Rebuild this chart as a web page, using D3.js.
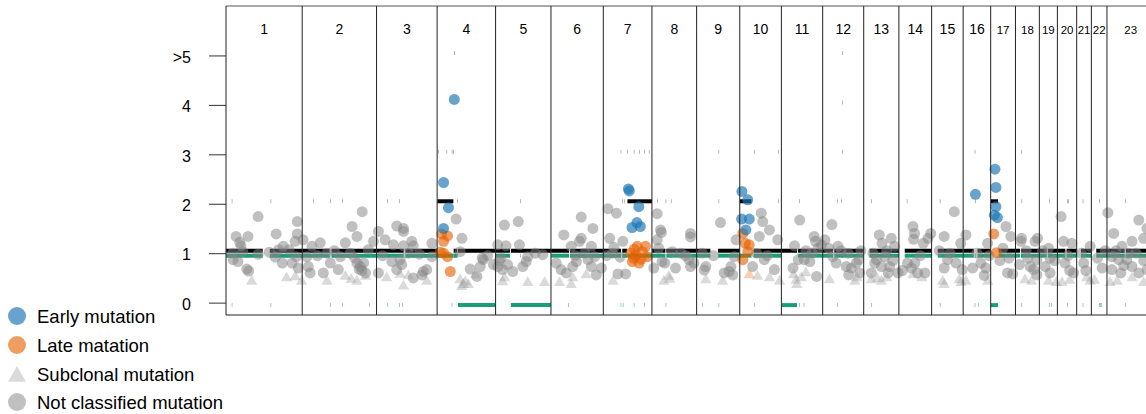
<style>
body {margin:0; background:#fff;}
#cn text {font-family:'Liberation Sans',Arial,Helvetica,sans-serif; fill:#000;}
</style>
<script src='https://d3js.org/d3.v7.min.js'></script>
<svg id='cn'></svg><script>
// chromosomes and their lengths (Mb)
var chroms=['1','2','3','4','5','6','7','8','9','10','11','12','13','14','15','16','17','18','19','20','21','22','23'];
var chromLen=[249,243,198,191,181,171,159,146,141,136,135,134,115,107,103,90,81,78,59,63,48,51,155];
var yTicks=[0,1,2,3,4,5], yTickLabels=['0','1','2','3','4','>5'];
var legendLabels=['Early mutation','Late matation','Subclonal mutation','Not classified mutation'];

// copy number segments: chrom, start, end, major, minor
var segments=[
 [1,0.5,120,1,1],[1,143,249,1,1],[2,0.5,90,1,1],[2,96,243,1,1],[3,0.5,89,1,1],[3,94,198,1,1],
 [4,0.5,53,2,1],[4,54,66,1,1],[4,68,191,1,0],[5,0.5,47,1,1],[5,50,181,1,0],
 [6,0.5,59,1,1],[6,62,171,1,1],[7,0.5,58,1,1],[7,62,78,1,1],[7,79,159,2,1],
 [8,0.5,44,1,1],[8,47,146,1,1],[9,0.5,45,1,1],[9,70,141,1,1],[10,0.5,38,2,1],[10,45,135,1,1],
 [11,0.5,51,1,0],[11,54,135,1,1],[12,0.5,34,1,1],[12,38,133,1,1],[13,19,115,1,1],
 [14,19,107,1,1],[15,20,102,1,1],[16,0.5,35,1,1],[16,47,90,1,1],[17,0.5,24,2,0],[17,26,81,1,1],
 [18,0.5,15,1,1],[18,18,78,1,1],[19,0.5,24,1,1],[19,28,59,1,1],[20,0.5,26,1,1],[20,30,63,1,1],
 [21,14,48,1,1],[22,16,51,1,1],[23,0.5,58,1,1],[23,62,155,1,1]];
// very short segments: chrom, pos, major, minor
var tinySegs=[
 [1,19,2,0],[1,146,2,0],[2,37,2,1],[2,92,2,0],[2,131,2,0],[2,220,1,0],[3,36,2,0],[3,74,2,0],[3,85,1,0],
 [4,4,3,1],[4,31,3,1],[4,48,3,0],[4,53,3,1],[4,56,5,1],[4,65,2,1],[5,81,2,1],[6,57,1,0],
 [7,57,3,0],[7,62,2,1],[7,68,2,1],[7,64,1,0],[7,78,3,1],[7,100,3,0],[7,117,3,1],[7,133,3,0],[7,149,3,1],
 [8,18,2,1],[8,45,2,0],[8,62,2,1],[9,72,3,0],[9,72,2,1],[9,19,1,0],[10,48,3,0],[10,126,3,1],[10,126,2,1],
 [11,59,2,0],[11,73,1,0],[12,64,5,1],[12,64,4,1],[12,64,3,1],[12,48,2,0],[12,61,2,1],[13,25,2,0],
 [14,26,2,1],[15,27,2,0],[16,38,3,0],[16,40,2,1],[16,50,1,0],[18,20,3,0],[18,20,2,1],[19,33,2,0],
 [19,38,1,0],[20,33,2,0],[20,35,2,1],[21,20,2,0],[22,25,2,0],[22,30,1,0],[22,33,1,0],[23,60,2,0]];

// mutations: chrom, pos, mutation copy number
var early=[[4,21,2.43],[4,37,1.92],[4,21,1.5],[4,56,4.11],
 [7,82,2.3],[7,85,2.26],[7,116,1.94],[7,110,1.62],[7,94,1.52],[7,121,1.54],
 [10,7,2.25],[10,26,2.08],[10,6,1.69],[10,31,1.69],[10,20,1.47],[16,40,2.19],
 [17,14,2.7],[17,17,2.33],[17,17,1.94],[17,12,1.77],[17,22,1.72]];
var late=[[4,15,1.39],[4,34,1.35],[4,21,1.24],[4,21,1.0],[4,34,0.93],[4,43,0.63],[4,10,1.02],
 [7,111,1.14],[7,90,1.0],[7,128,1.03],[7,144,0.93],[7,95,0.83],[7,117,0.8],[7,106,0.95],[7,138,1.14],
 [7,99,0.9],[7,124,0.88],[7,101,1.08],[10,10,1.4],[10,31,1.17],[10,26,1.03],[10,10,0.87],[10,18,1.2],
 [17,10,1.39],[17,19,1.01]];
var lateSubclonal=[[10,31,0.56]];
var subclonal=[[1,84,0.43],[1,198,0.5],[1,226,0.52],[1,247,0.43],
 [2,81,0.43],[2,141,0.53],[2,179,0.43],[2,207,0.53],[2,160,0.47],
 [3,33,0.5],[3,88,0.33],[3,104,0.54],[3,164,0.43],[3,77,0.57],
 [4,75,0.46],[4,86,0.36],[4,102,0.36],[4,80,0.32],[4,125,0.56],[4,92,0.42],
 [5,29,0.5],[5,23,0.42],[5,105,0.4],[5,160,0.4],[6,28,0.4],[6,66,0.36],[6,71,0.5],[6,115,0.56],
 [7,32,0.43],[8,39,0.43],[8,55,0.53],[8,58,0.47],[9,30,0.46],[9,85,0.43],
 [10,58,0.53],[10,97,0.5],[10,130,0.43],[11,40,0.56],[11,50,0.36],[11,65,0.5],[11,48,0.45],[11,80,0.6],
 [12,22,0.46],[12,105,0.43],[12,112,0.5],[13,25,0.46],[13,45,0.48],[13,58,0.43],[13,75,0.5],
 [14,46,0.56],[14,75,0.5],[15,36,0.43],[15,41,0.36],[15,90,0.46],[15,96,0.4],[16,9,0.43],[16,80,0.43],
 [18,31,0.46],[18,53,0.43],[19,30,0.43],[19,55,0.4],[20,15,0.4],[20,40,0.45],[21,33,0.5],[21,44,0.43],
 [22,10,0.45],[23,33,0.43],[23,82,0.5],[23,120,0.4],[23,10,0.4]];
var notClassified=[
 [1,33,1.34],[1,72,1.34],[1,105,1.74],[1,49,1.15],[1,23,0.87],[1,39,0.83],[1,68,0.68],[1,74,0.64],
 [1,105,0.98],[1,164,1.39],[1,161,0.92],[1,187,1.14],[1,184,0.8],[1,216,0.8],[1,233,1.64],[1,233,1.39],
 [1,226,1.24],[1,236,0.7],[1,230,0.93],[1,172,1.07],[1,45,1.22],[1,22,1.0],[1,55,1.03],[1,141,1.02],[1,206,1.07],
 [2,3,1.27],[2,32,1.14],[2,15,0.93],[2,20,0.73],[2,26,0.6],[2,59,1.21],[2,81,1.0],[2,92,0.8],[2,69,0.6],
 [2,125,0.93],[2,141,1.21],[2,163,1.54],[2,179,1.34],[2,196,1.84],[2,190,0.73],[2,207,0.6],[2,201,0.8],
 [2,179,0.8],[2,216,1.07],[2,233,1.24],[2,157,1.0],[2,118,0.67],[2,50,0.95],[2,105,1.05],[2,186,0.68],
 [2,195,0.65],[2,172,0.9],
 [3,6,1.44],[3,66,1.55],[3,88,1.5],[3,88,1.44],[3,28,1.27],[3,55,1.17],[3,88,1.15],[3,115,1.24],[3,120,1.15],
 [3,181,1.2],[3,50,0.83],[3,77,0.87],[3,82,0.77],[3,66,0.67],[3,6,0.6],[3,120,0.5],[3,153,0.63],[3,164,0.67],
 [3,148,0.56],[3,104,1.0],[3,181,0.93],[3,20,0.95],[3,140,0.98],
 [4,62,1.69],[4,81,1.3],[4,75,1.03],[4,108,0.68],[4,147,0.9],[4,141,0.73],[4,130,0.53],[4,184,0.77],
 [4,151,0.87],[4,165,0.95],
 [5,29,1.57],[5,74,1.64],[5,7,1.17],[5,34,1.15],[5,78,1.17],[5,18,0.9],[5,39,0.77],[5,23,0.67],[5,56,0.63],
 [5,89,0.73],[5,105,0.93],[5,100,0.83],[5,154,0.97],[5,7,0.73],[5,12,0.85],[5,130,1.0],
 [6,99,1.73],[6,137,1.5],[6,42,1.37],[6,99,1.3],[6,93,1.24],[6,66,1.14],[6,132,1.14],[6,17,0.8],[6,33,0.67],
 [6,50,0.6],[6,71,0.73],[6,83,0.83],[6,121,0.87],[6,132,0.73],[6,148,0.56],[6,165,0.7],[6,143,0.93],
 [6,110,1.0],[6,80,0.95],
 [7,15,1.9],[7,43,1.81],[7,21,1.3],[7,64,1.24],[7,48,0.58],[7,73,0.58],[7,30,1.0],[7,55,0.92],[7,10,0.95],[7,35,1.12],
 [8,17,1.8],[8,28,1.47],[8,31,1.42],[8,17,1.27],[8,22,1.1],[8,126,1.4],[8,126,1.33],[8,6,0.7],[8,33,0.83],
 [8,42,0.8],[8,77,0.7],[8,121,0.87],[8,126,0.73],[8,137,0.8],[8,66,1.03],[8,95,1.0],[8,110,0.95],
 [9,78,1.62],[9,19,1.0],[9,30,0.73],[9,90,0.6],[9,112,0.73],[9,123,0.93],[9,129,1.27],[9,106,0.63],
 [9,118,0.56],[9,25,0.66],[9,55,0.95],
 [10,70,1.81],[10,75,1.64],[10,97,1.47],[10,64,1.34],[10,124,1.27],[10,80,0.87],[10,42,0.73],[10,113,0.67],
 [10,55,1.0],[10,90,0.95],
 [11,60,1.67],[11,107,1.34],[11,112,1.24],[11,43,1.15],[11,131,1.17],[11,38,0.7],[11,55,0.87],[11,93,0.83],
 [11,115,0.53],[11,75,0.87],[11,80,1.05],[11,100,1.0],[11,120,1.1],
 [12,30,1.58],[12,7,1.27],[12,50,1.14],[12,33,0.93],[12,44,0.8],[12,83,1.0],[12,77,0.73],[12,110,0.8],
 [12,121,0.6],[12,94,0.7],[12,85,0.56],[12,118,0.87],[12,125,1.05],[12,60,1.05],[12,20,1.1],
 [13,51,1.37],[13,90,1.3],[13,69,0.93],[13,101,1.14],[13,36,0.8],[13,58,0.73],[13,85,0.73],[13,80,0.6],
 [13,25,0.6],[13,112,0.6],[13,42,0.87],[13,60,1.2],[13,75,1.05],[13,95,0.85],[13,30,1.0],
 [14,46,1.54],[14,51,1.4],[14,48,1.28],[14,95,1.3],[14,104,1.4],[14,80,1.2],[14,52,0.8],[14,41,0.7],
 [14,85,0.6],[14,28,0.8],[14,61,0.6],[14,11,0.65],[14,70,0.95],
 [15,74,1.84],[15,41,1.34],[15,52,0.87],[15,41,0.7],[15,95,1.2],[15,100,0.67],[15,80,0.8],[15,25,1.05],[15,60,1.0],
 [16,9,1.37],[16,80,1.2],[16,31,0.7],[16,58,0.8],[16,69,0.55],[16,74,0.7],[16,85,0.95],[16,45,1.0],
 [17,50,1.54],[17,66,1.34],[17,55,0.6],[17,72,0.58],[17,40,1.1],[17,60,0.9],[17,30,0.85],
 [18,18,1.24],[18,13,0.77],[18,64,1.24],[18,70,0.87],[18,59,0.67],[18,72,1.3],[18,20,1.3],[18,48,0.73],
 [18,70,0.56],[18,35,1.05],[18,40,0.9],
 [19,30,1.1],[19,35,0.9],[19,19,0.73],[19,35,0.6],[19,50,0.85],[19,10,1.05],
 [20,12,1.74],[20,20,1.24],[20,47,1.2],[20,25,0.8],[20,53,0.6],[20,35,0.95],[20,40,0.65],
 [21,23,0.8],[21,44,1.14],[21,15,1.0],[21,30,0.65],[22,20,0.9],[22,35,0.7],[22,45,1.05],
 [23,3,1.82],[23,22,1.4],[23,104,1.67],[23,131,1.5],[23,49,1.14],[23,82,1.24],[23,120,1.3],[23,16,0.93],
 [23,38,0.87],[23,65,0.87],[23,16,0.67],[23,82,0.73],[23,104,0.6],[23,131,0.67],[23,55,0.75],[23,95,1.0],
 [23,30,1.05],[23,120,0.85],[23,70,1.0],[23,45,0.6]];

var W=1146,H=414,plotLeft=226,plotTop=6,plotBottom=315;
var starts=[],acc=0;
chromLen.forEach(function(l){starts.push(acc);acc+=l;});
var xScale=d3.scaleLinear().domain([0,acc]).range([plotLeft,plotLeft+acc*0.306]),
    yScale=d3.scaleLinear().domain([-0.25,6]).range([plotBottom,plotTop]);
var gx=function(c,p){return xScale(starts[c-1]+p);};

var svg=d3.select('#cn').attr('width',W).attr('height',H);

// y axis
var ax=svg.append('g').attr('transform','translate('+plotLeft+',0)')
  .call(d3.axisLeft(yScale).tickValues(yTicks).tickFormat(function(d,i){return yTickLabels[i];})
  .tickSize(17).tickPadding(18));
ax.select('.domain').remove();
ax.selectAll('line').attr('stroke','#333');
ax.selectAll('text').attr('font-size','16px').attr('dy','0.42em');

// segments
var seg=svg.append('g');
seg.selectAll('line.mi').data(segments).enter().append('line')
  .attr('x1',d=>gx(d[0],d[1])).attr('x2',d=>gx(d[0],d[2]))
  .attr('y1',d=>yScale(d[4]-0.05)).attr('y2',d=>yScale(d[4]-0.05))
  .attr('stroke','#1b9e77').attr('stroke-width',4);
seg.selectAll('line.ma').data(segments).enter().append('line')
  .attr('x1',d=>gx(d[0],d[1])).attr('x2',d=>gx(d[0],d[2]))
  .attr('y1',d=>yScale(d[3]+0.05)).attr('y2',d=>yScale(d[3]+0.05))
  .attr('stroke','#000').attr('stroke-width',4);
seg.selectAll('line.tmi').data(tinySegs).enter().append('line')
  .attr('x1',d=>gx(d[0],d[1])).attr('x2',d=>gx(d[0],d[1]+1.5))
  .attr('y1',d=>yScale(d[3]-0.05)).attr('y2',d=>yScale(d[3]-0.05))
  .attr('stroke','#1b9e77').attr('stroke-width',4);
seg.selectAll('line.tma').data(tinySegs).enter().append('line')
  .attr('x1',d=>gx(d[0],d[1])).attr('x2',d=>gx(d[0],d[1]+1.5))
  .attr('y1',d=>yScale(d[2]+0.05)).attr('y2',d=>yScale(d[2]+0.05))
  .attr('stroke','#000').attr('stroke-width',4).attr('stroke-opacity',0.6);

// points
var cols={early:'rgba(31,120,180,0.68)',late:'rgba(230,97,1,0.62)',
  sub:'rgba(150,150,150,0.35)',nc:'rgba(135,135,135,0.52)',lsub:'rgba(230,97,1,0.3)'};
var tri=d3.symbol().type(d3.symbolTriangle).size(55);
var pts=svg.append('g');
function circles(data,col){
  pts.append('g').selectAll('circle').data(data).enter().append('circle')
    .attr('cx',d=>gx(d[0],d[1])).attr('cy',d=>yScale(d[2])).attr('r',5.5).attr('fill',col);
}
function triangles(data,col){
  pts.append('g').selectAll('path').data(data).enter().append('path').attr('d',tri)
    .attr('transform',d=>'translate('+gx(d[0],d[1])+','+yScale(d[2])+')').attr('fill',col);
}
circles(notClassified,cols.nc);
triangles(subclonal,cols.sub);
triangles(lateSubclonal,cols.lsub);
circles(late,cols.late);
circles(early,cols.early);

// frame and chromosome borders
var fr=svg.append('g').attr('stroke','#222').attr('stroke-width',1);
fr.append('line').attr('x1',plotLeft).attr('x2',W).attr('y1',plotTop).attr('y2',plotTop).attr('stroke','#555');
fr.append('line').attr('x1',plotLeft).attr('x2',W).attr('y1',plotBottom).attr('y2',plotBottom);
fr.selectAll('line.b').data(starts).enter().append('line')
  .attr('x1',d=>xScale(d)).attr('x2',d=>xScale(d)).attr('y1',plotTop).attr('y2',plotBottom);
svg.append('g').selectAll('text').data(chroms).enter().append('text')
  .attr('x',(d,i)=>xScale(starts[i]+chromLen[i]/2)).attr('y',34)
  .attr('text-anchor','middle').attr('font-size',(d,i)=>i<16?'14px':'11.5px').text(d=>d);

// legend
var lg=svg.append('g');
var ly=[316,345,374,402];
lg.append('circle').attr('cx',17).attr('cy',ly[0]).attr('r',9).attr('fill',cols.early);
lg.append('circle').attr('cx',17).attr('cy',ly[1]).attr('r',9).attr('fill',cols.late);
lg.append('path').attr('d',d3.symbol().type(d3.symbolTriangle).size(140))
  .attr('transform','translate(17,'+(ly[2]+2.5)+')').attr('fill',cols.sub);
lg.append('circle').attr('cx',17).attr('cy',ly[3]).attr('r',9).attr('fill',cols.nc);
lg.selectAll('text').data(legendLabels).enter().append('text')
  .attr('x',37).attr('y',(d,i)=>ly[i]+7).attr('font-size','18.5px').text(d=>d);
</script>
